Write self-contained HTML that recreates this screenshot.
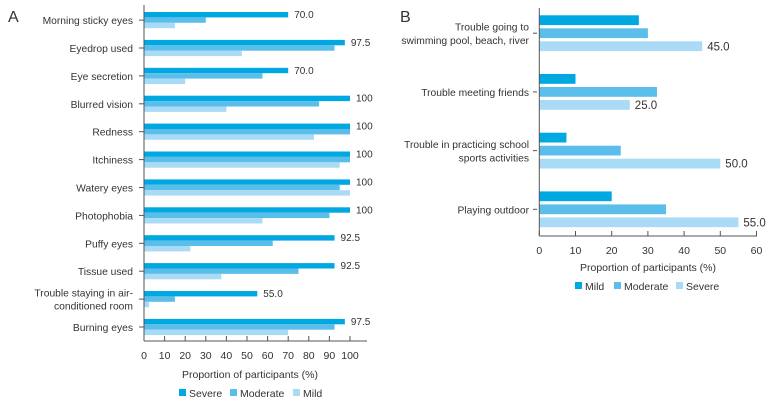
<!DOCTYPE html>
<html><head><meta charset="utf-8">
<style>
html,body{margin:0;padding:0;background:#fff;}
svg{display:block;font-family:"Liberation Sans",Arial,sans-serif;}
</style></head>
<body>
<svg id="chart" width="769" height="405" viewBox="0 0 769 405" xmlns="http://www.w3.org/2000/svg"></svg>
<script>
// Panel A data
const catsA = ["Morning sticky eyes","Eyedrop used","Eye secretion","Blurred vision","Redness","Itchiness","Watery eyes","Photophobia","Puffy eyes","Tissue used","Trouble staying in air-|conditioned room","Burning eyes"];
const severeA = [70,97.5,70,100,100,100,100,100,92.5,92.5,55,97.5];
const moderateA = [30,92.5,57.5,85,100,100,95,90,62.5,75,15,92.5];
const mildA = [15,47.5,20,40,82.5,95,100,57.5,22.5,37.5,2.5,70];
const labelsA = ["70.0","97.5","70.0","100","100","100","100","100","92.5","92.5","55.0","97.5"];
const ticksA = [0,10,20,30,40,50,60,70,80,90,100];
// Panel B data
const catsB = ["Trouble going to|swimming pool, beach, river","Trouble meeting friends","Trouble in practicing school|sports activities","Playing outdoor"];
const mildB = [27.5,10,7.5,20];
const moderateB = [30,32.5,22.5,35];
const severeB = [45,25,50,55];
const labelsB = ["45.0","25.0","50.0","55.0"];
const ticksB = [0,10,20,30,40,50,60];

const C1="#00a8e1", C2="#5bbde9", C3="#a9dbf6";
const svg=document.getElementById('chart');
const NS="http://www.w3.org/2000/svg";
function mk(tag,attrs,parent){const e=document.createElementNS(NS,tag);for(const k in attrs)e.setAttribute(k,attrs[k]);(parent||svg).appendChild(e);return e;}
function txt(x,y,s,anchor,size,parent){const t=mk('text',{x:x,y:y,'text-anchor':anchor||'start','font-size':size||11,fill:'#333'},parent);t.textContent=s;return t;}

// ---- Panel A ----
const gA=mk('g',{});


const xA=v=>144+v*2.06;
const pitchA=27.9, y0A=12, bhA=5.4;
const pa=txt(8,22,"A",'start',16,gA);


catsA.forEach((c,i)=>{
  const top=y0A+i*pitchA;
  [[severeA,C1,'severe'],[moderateA,C2,'moderate'],[mildA,C3,'mild']].forEach((s,j)=>{
    const r=mk('rect',{x:xA(0),y:top+j*bhA,width:xA(s[0][i])-xA(0),height:bhA,fill:s[1]},gA);
    
    
  });
  const vl=txt(xA(severeA[i])+6,top+6,labelsA[i],'start',10,gA);
  
  
  const cy=top+bhA*1.5;
  mk('line',{x1:139,x2:144,y1:cy,y2:cy,stroke:'#555','stroke-width':1},gA);
  const parts=c.split('|');
  parts.forEach((p,k)=>{
    const t=txt(133,cy+4+(k-(parts.length-1)/2)*13,p,'end',10.3,gA);
    
    
  });
});
mk('line',{x1:144,x2:144,y1:5,y2:341,stroke:'#555','stroke-width':1},gA);
mk('line',{x1:144,x2:367,y1:341,y2:341,stroke:'#555','stroke-width':1},gA);
ticksA.forEach(v=>{
  mk('line',{x1:xA(v),x2:xA(v),y1:336,y2:341,stroke:'#555','stroke-width':1},gA);
  const t=txt(xA(v),359,String(v),'middle',10.5,gA);
  
  
});
const tA=txt(250,378,"Proportion of participants (%)",'middle',10.5,gA);


[["Severe",C1,179],["Moderate",C2,230],["Mild",C3,293]].forEach(l=>{
  const g=mk('g',{},gA);
  
  
  mk('rect',{x:l[2],y:389,width:7,height:7,fill:l[1]},g);
  txt(l[2]+10,397,l[0],'start',10.5,g);
});

// ---- Panel B ----
const gB=mk('g',{});


const xB=v=>539.3+v*3.62;
const pitchB=58.7, y0B=15.3, bhB=9.8, gapB=13;
const pb=txt(400,22,"B",'start',16,gB);


catsB.forEach((c,i)=>{
  const top=y0B+i*pitchB;
  [[mildB,C1,'mild'],[moderateB,C2,'moderate'],[severeB,C3,'severe']].forEach((s,j)=>{
    const r=mk('rect',{x:xB(0),y:top+j*gapB,width:xB(s[0][i])-xB(0),height:bhB,fill:s[1]},gB);
    
    
  });
  const vl=txt(xB(severeB[i])+5,top+2*gapB+9,labelsB[i],'start',11.5,gB);
  
  
  const cy=top+gapB+bhB/2;
  mk('line',{x1:533,x2:537,y1:cy,y2:cy,stroke:'#555','stroke-width':1},gB);
  const parts=c.split('|');
  parts.forEach((p,k)=>{
    const t=txt(529,cy+4+(k-(parts.length-1)/2)*13.5,p,'end',10.3,gB);
    
    
  });
});
mk('line',{x1:539.3,x2:539.3,y1:8,y2:236,stroke:'#555','stroke-width':1},gB);
mk('line',{x1:539.3,x2:757,y1:236,y2:236,stroke:'#555','stroke-width':1},gB);
ticksB.forEach(v=>{
  mk('line',{x1:xB(v),x2:xB(v),y1:231,y2:236,stroke:'#555','stroke-width':1},gB);
  const t=txt(xB(v),254,String(v),'middle',10.5,gB);
  
  
});
const tB=txt(648,271,"Proportion of participants (%)",'middle',10.5,gB);


[["Mild",C1,575],["Moderate",C2,614],["Severe",C3,676]].forEach(l=>{
  const g=mk('g',{},gB);
  
  
  mk('rect',{x:l[2],y:282,width:7,height:7,fill:l[1]},g);
  txt(l[2]+10,290,l[0],'start',10.5,g);
});
</script>
</body></html>
